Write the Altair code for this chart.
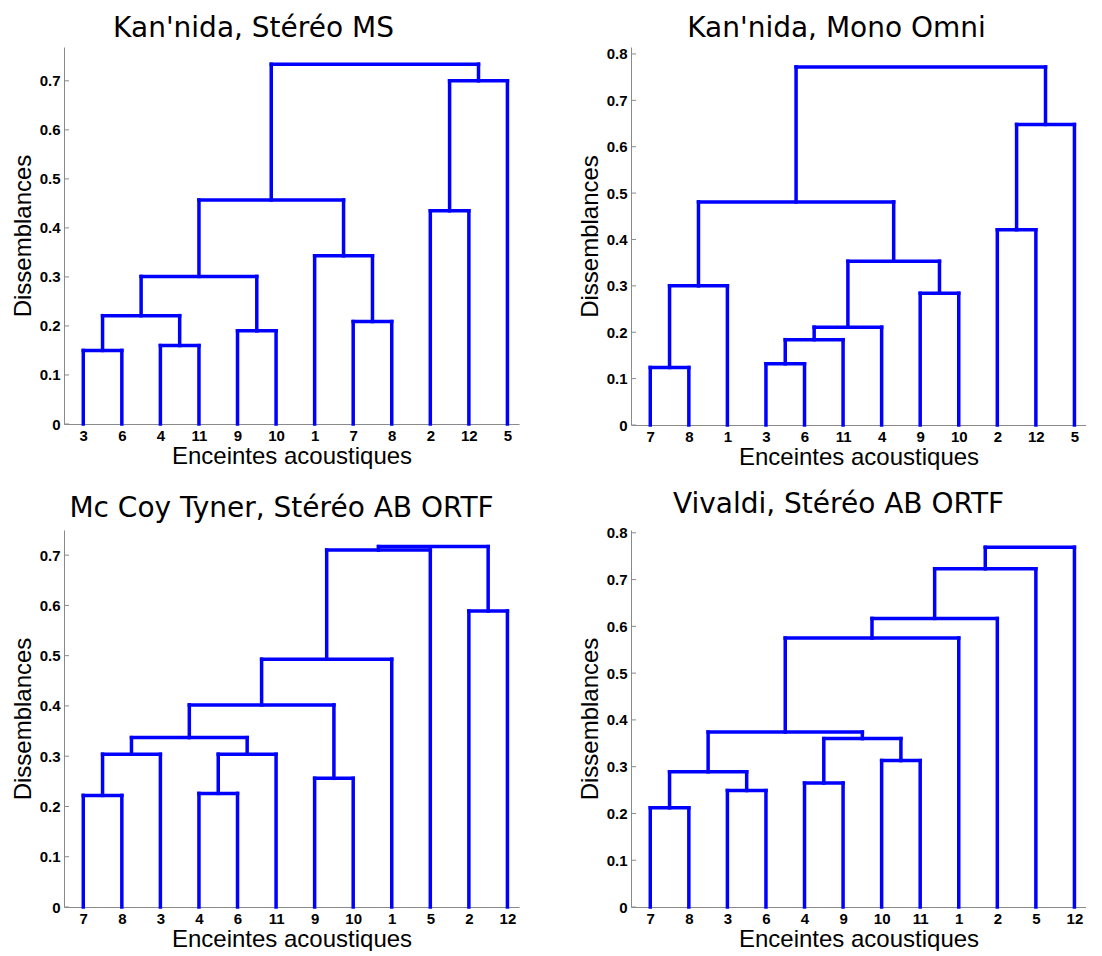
import altair as alt
import pandas as pd

# ---------------- data ----------------
TITLES = ["Kan'nida, Stéréo MS", "Kan'nida, Mono Omni",
          "Mc Coy Tyner, Stéréo AB ORTF", "Vivaldi, Stéréo AB ORTF"]

# leaf order along the x axis
p1_leaves = [3, 6, 4, 11, 9, 10, 1, 7, 8, 2, 12, 5]
p2_leaves = [7, 8, 1, 3, 6, 11, 4, 9, 10, 2, 12, 5]
p3_leaves = [7, 8, 3, 4, 6, 11, 9, 10, 1, 5, 2, 12]
p4_leaves = [7, 8, 3, 6, 4, 9, 10, 11, 1, 2, 5, 12]

# linkage (MATLAB style): child A, child B, height ; new cluster ids 13, 14, ...
p1_a = [3, 4, 9, 7, 13, 17, 1, 2, 18, 20, 21]
p1_b = [6, 11, 10, 8, 14, 15, 16, 12, 19, 5, 22]
p1_h = [0.150, 0.160, 0.190, 0.209, 0.221, 0.301, 0.343, 0.435, 0.457, 0.700, 0.734]

p2_a = [7, 3, 14, 15, 9, 13, 16, 2, 18, 20, 21]
p2_b = [8, 6, 11, 4, 10, 1, 17, 12, 19, 5, 22]
p2_h = [0.124, 0.132, 0.184, 0.211, 0.284, 0.300, 0.353, 0.421, 0.481, 0.648, 0.772]

p3_a = [7, 4, 9, 13, 14, 16, 18, 19, 2, 20, 22]
p3_b = [8, 6, 10, 3, 11, 17, 15, 1, 12, 5, 21]
p3_h = [0.222, 0.226, 0.256, 0.304, 0.304, 0.337, 0.402, 0.493, 0.589, 0.710, 0.717]

p4_a = [7, 3, 4, 13, 10, 15, 16, 19, 20, 21, 22]
p4_b = [8, 6, 9, 14, 11, 17, 18, 1, 2, 5, 12]
p4_h = [0.212, 0.249, 0.265, 0.289, 0.313, 0.360, 0.374, 0.575, 0.617, 0.723, 0.769]

y_ticks_07 = [0, 0.1, 0.2, 0.3, 0.4, 0.5, 0.6, 0.7]
y_ticks_08 = [0, 0.1, 0.2, 0.3, 0.4, 0.5, 0.6, 0.7, 0.8]


def segments(order, za, zb, zh):
    pos = {leaf: i + 1 for i, leaf in enumerate(order)}
    hgt = {leaf: 0.0 for leaf in order}
    rows = []
    for k, (a, b, h) in enumerate(zip(za, zb, zh)):
        xa, xb = pos[a], pos[b]
        rows.append(dict(x=xa, x2=xa, y=hgt[a], y2=h))
        rows.append(dict(x=xb, x2=xb, y=hgt[b], y2=h))
        rows.append(dict(x=xa, x2=xb, y=h, y2=h))
        pos[13 + k] = (xa + xb) / 2
        hgt[13 + k] = h
    return pd.DataFrame(rows)


BLUE = "#0000FF"
AXIS_GRAY = "#8a8a8a"
W = 455


def panel(title, leaves, za, zb, zh, ymax, yticks, height, dx, toff):
    df = segments(leaves, za, zb, zh)
    lab = "[" + ",".join("'%d'" % v for v in leaves) + "]"
    xenc = alt.X("x:Q", scale=alt.Scale(domain=[0.5, 12.3], nice=False, zero=False),
                 axis=alt.Axis(values=list(range(1, 13)),
                               labelExpr=lab + "[datum.value - 1]",
                               title="Enceintes acoustiques"))
    yscale = alt.Scale(domain=[0, ymax], nice=False)
    yenc = alt.Y("y:Q", scale=yscale,
                 axis=alt.Axis(values=yticks, format=".1~f", title="Dissemblances"))
    lines = alt.Chart(df).mark_rule(color=BLUE, strokeWidth=3.5, strokeCap="square").encode(
        x=xenc, x2="x2:Q", y=yenc, y2="y2:Q")
    ticks = alt.Chart(pd.DataFrame({"y": yticks})).mark_rule(
        color=AXIS_GRAY, strokeWidth=1).encode(
        y=alt.Y("y:Q", scale=yscale), x=alt.value(0), x2=alt.value(5))
    return alt.layer(lines, ticks).properties(
        width=W, height=height,
        title=alt.TitleParams(title, font="DejaVu Sans", fontSize=28, fontWeight="normal",
                              color="black", frame="group", anchor="middle", dx=dx,
                              offset=toff))


c1 = panel(TITLES[0], p1_leaves, p1_a, p1_b, p1_h, 0.769, y_ticks_07, 377, -38, 4)
c2 = panel(TITLES[1], p2_leaves, p2_a, p2_b, p2_h, 0.815, y_ticks_08, 378, -22, 4)
c3 = panel(TITLES[2], p3_leaves, p3_a, p3_b, p3_h, 0.750, y_ticks_07, 377, -10, 7)
c4 = panel(TITLES[3], p4_leaves, p4_a, p4_b, p4_h, 0.806, y_ticks_08, 377, -20, 7)

chart = alt.concat(c1, c2, c3, c4, columns=2, spacing={"row": 105, "column": 112},
                   bounds="flush").properties(
    padding={"left": 3, "top": 6, "right": 0, "bottom": 0},
    background="white",
).configure_view(stroke=None).configure_axis(
    grid=False, ticks=False, domainColor=AXIS_GRAY, domainWidth=1,
    labelFont="Liberation Sans", labelFontSize=15, labelFontWeight="bold",
    labelColor="black", labelPadding=4,
    titleFont="Liberation Sans", titleFontSize=24, titleFontWeight="normal",
    titleColor="black",
).configure_axisX(labelPadding=4, titlePadding=1, labelFlush=False, labelOverlap=False
).configure_axisY(titlePadding=4)

chart.save("out.html", embed_options={"renderer": "svg", "actions": False})
